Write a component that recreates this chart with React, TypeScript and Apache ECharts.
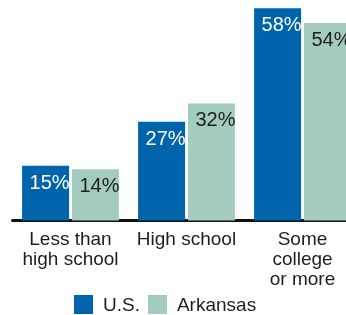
import React, { useEffect, useRef } from "react";
import * as echarts from "echarts";

const categories = ["Less than\nhigh school", "High school", "Some\ncollege\nor more"];
const usValues = [15, 27, 58];
const arkansasValues = [14, 32, 54];
const seriesNames = ["U.S.", "Arkansas"];

const FONT = "Liberation Sans";

export default function App() {
  const ref = useRef<HTMLDivElement>(null);
  useEffect(() => {
    if (!ref.current) return;
    const chart = echarts.init(ref.current, null, { renderer: "svg" });
    const label = (color: string) => ({
      show: true,
      position: "insideTop" as const,
      distance: 6,
      offset: [4, 0],
      formatter: "{c}%",
      color,
      fontSize: 20,
      fontFamily: FONT,
    });
    chart.setOption({
      animation: false,
      textStyle: { fontFamily: FONT },
      grid: {
        left: 12.5,
        width: 348,
        top: 1,
        bottom: 94.5,
        containLabel: false,
        outerBoundsMode: "none",
      },
      xAxis: {
        type: "category",
        data: categories,
        axisLine: { show: true, lineStyle: { color: "#111", width: 3 } },
        axisTick: { show: false },
        axisLabel: {
          color: "#1e1e1e",
          fontSize: 19,
          lineHeight: 20,
          margin: 8,
          fontFamily: FONT,
          interval: 0,
        },
      },
      yAxis: { type: "value", min: 0, max: 60, show: false, splitLine: { show: false } },
      legend: {
        data: seriesNames,
        left: 74,
        top: 295,
        itemWidth: 19,
        itemHeight: 19,
        itemGap: 8,
        padding: 0,
        icon: "rect",
        textStyle: { fontSize: 19, color: "#1e1e1e", fontFamily: FONT, padding: [0, 0, 0, 5] },
      },
      series: [
        {
          name: seriesNames[0],
          type: "bar",
          data: usValues,
          barWidth: 47,
          barGap: "6%",
          itemStyle: { color: "#0064AC" },
          label: label("#ffffff"),
        },
        {
          name: seriesNames[1],
          type: "bar",
          data: arkansasValues,
          barWidth: 47,
          itemStyle: { color: "#A4CBC0" },
          label: label("#1e1e1e"),
        },
      ],
    });
    return () => chart.dispose();
  }, []);
  return (
    <div
      ref={ref}
      style={{ position: "fixed", left: 0, top: 0, width: 346, height: 315 }}
    />
  );
}
